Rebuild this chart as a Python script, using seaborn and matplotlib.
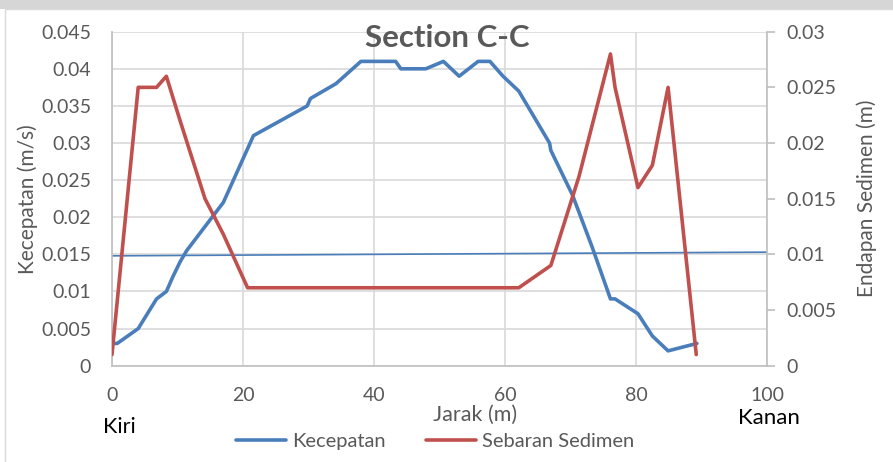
import matplotlib
matplotlib.use("Agg")
import matplotlib.pyplot as plt
import matplotlib.patches as mpatches
from matplotlib.lines import Line2D
import numpy as np
import pandas as pd
import seaborn as sns

# Velocity profile across the section (left axis)
jarak_v = [0, 0.8, 4.0, 6.8, 8.3, 9.3, 10.4, 11.4, 17.0, 21.6, 29.8, 30.3, 34.2,
           38.0, 43.3, 44.1, 47.9, 50.6, 53.0, 55.9, 57.7, 59.7, 62.1, 66.8, 67.0,
           70.3, 73.3, 76.1, 76.8, 80.3, 82.5, 84.9, 89.3]
kecepatan = [0.003, 0.003, 0.005, 0.009, 0.010, 0.012, 0.014, 0.0155, 0.022, 0.031,
             0.035, 0.036, 0.038, 0.041, 0.041, 0.040, 0.040, 0.041, 0.039, 0.041,
             0.041, 0.039, 0.037, 0.030, 0.029, 0.023, 0.016, 0.009, 0.009, 0.007,
             0.004, 0.002, 0.003]

# Sediment deposit thickness (right axis)
jarak_s = [0, 4.0, 6.8, 8.3, 10.4, 14.2, 17.0, 20.7, 62.1, 67.0, 71.3, 76.1, 76.8,
           80.3, 82.5, 84.9, 89.2]
sedimen = [0.001, 0.025, 0.025, 0.026, 0.022, 0.015, 0.0118, 0.007, 0.007, 0.009,
           0.017, 0.028, 0.025, 0.016, 0.018, 0.025, 0.001]

# Linear trend of velocity
trend_x = [0, 100]
trend_y = [0.0148, 0.0153]

x_ticks = [0, 20, 40, 60, 80, 100]
left_ticks = [0, 0.005, 0.01, 0.015, 0.02, 0.025, 0.03, 0.035, 0.04, 0.045]
left_labels = ["0", "0.005", "0.01", "0.015", "0.02", "0.025", "0.03", "0.035", "0.04", "0.045"]
right_ticks = [0, 0.005, 0.01, 0.015, 0.02, 0.025, 0.03]
right_labels = ["0", "0.005", "0.01", "0.015", "0.02", "0.025", "0.03"]

BLUE = "#4a7ebb"
RED = "#c0504d"
GREY_TXT = "#595959"
GRID = "#d9d9d9"

sns.set_theme(style="white")
plt.rcParams["font.family"] = ["Lato", "DejaVu Sans"]

fig = plt.figure(figsize=(8.93, 4.62), dpi=100)
fig.patch.set_facecolor("white")

# page band and chart frame, kept behind the axes
fig.patches.append(mpatches.Rectangle((0, 1 - 9 / 462), 1, 9 / 462, transform=fig.transFigure,
                                      facecolor="#d6d6d6", edgecolor="none", zorder=-5))
fig.patches.append(mpatches.Rectangle((5 / 893, -0.02), 1.0, 1 - 9 / 462 + 0.02 - 0.001,
                                      transform=fig.transFigure, facecolor="white",
                                      edgecolor="#d9d9d9", linewidth=1.0, zorder=-4))

ax = fig.add_axes([112 / 893, 96.3 / 462, 655 / 893, 334 / 462])
ax.set_facecolor("none")
ax2 = ax.twinx()

df_v = pd.DataFrame({"Jarak": jarak_v, "Kecepatan": kecepatan})
df_s = pd.DataFrame({"Jarak": jarak_s, "Sedimen": sedimen})
df_t = pd.DataFrame({"Jarak": trend_x, "Trend": trend_y})

sns.lineplot(data=df_t, x="Jarak", y="Trend", ax=ax, color=BLUE, linewidth=1.2,
             sort=False, estimator=None, legend=False)
sns.lineplot(data=df_v, x="Jarak", y="Kecepatan", ax=ax, color=BLUE, linewidth=2.6,
             sort=False, estimator=None, legend=False)
sns.lineplot(data=df_s, x="Jarak", y="Sedimen", ax=ax2, color=RED, linewidth=2.6,
             sort=False, estimator=None, legend=False)

ax.set_xlim(0, 100)
ax.set_ylim(0, 0.045)
ax2.set_ylim(0, 0.03)

ax.set_xticks(x_ticks)
ax.set_xticklabels([str(t) for t in x_ticks])
ax.set_yticks(left_ticks)
ax.set_yticklabels(left_labels)
ax2.set_yticks(right_ticks)
ax2.set_yticklabels(right_labels)

ax.grid(True, color=GRID, linewidth=1.2)
ax.set_axisbelow(True)
ax2.grid(False)

for side in ["top", "right"]:
    ax.spines[side].set_visible(False)
for side in ["left", "bottom"]:
    ax.spines[side].set_color("#bfbfbf")
    ax.spines[side].set_linewidth(1.2)
for side in ["top", "left", "bottom"]:
    ax2.spines[side].set_visible(False)
ax2.spines["right"].set_color("#bfbfbf")
ax2.spines["right"].set_linewidth(1.2)

ax.tick_params(axis="y", length=0, labelsize=14, labelcolor=GREY_TXT, pad=15)
ax.tick_params(axis="x", length=0, labelsize=14, labelcolor=GREY_TXT, pad=15)
ax2.tick_params(axis="y", length=6, width=1.2, color="#bfbfbf", labelsize=14,
                labelcolor=GREY_TXT, pad=8, direction="out")

ax.set_xlabel("")
ax.set_ylabel("Kecepatan (m/s)", fontsize=15, color=GREY_TXT, labelpad=2)
ax2.set_ylabel("Endapan Sedimen (m)", fontsize=15, color=GREY_TXT, labelpad=14)

fig.text(475 / 893, 1 - 415 / 462, "Jarak (m)", ha="center", va="center",
         fontsize=15.5, color=GREY_TXT)
fig.text(447 / 893, 1 - 38 / 462, "Section C-C", ha="center", va="center",
         fontsize=22.5, fontweight="bold", color=GREY_TXT)
fig.text(103 / 893, 1 - 427 / 462, "Kiri", ha="left", va="center", fontsize=15.5, color="black")
fig.text(738 / 893, 1 - 418 / 462, "Kanan", ha="left", va="center", fontsize=16, color="black")

handles = [Line2D([0], [0], color=BLUE, linewidth=2.6),
           Line2D([0], [0], color=RED, linewidth=2.6)]
fig.legend(handles, ["Kecepatan", "Sebaran Sedimen"], loc="center",
           bbox_to_anchor=(435 / 893, 1 - 441 / 462), ncol=2, frameon=False,
           fontsize=14.5, handlelength=2.5, handletextpad=0.3, columnspacing=2.0,
           labelcolor=GREY_TXT)

fig.savefig("out.png", dpi=100, facecolor=fig.get_facecolor())
